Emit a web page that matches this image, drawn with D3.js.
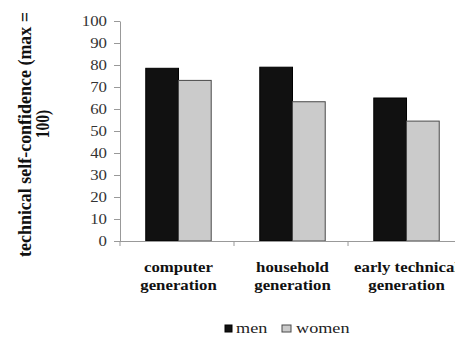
<!DOCTYPE html>
<html>
<head>
<meta charset="utf-8">
<script src="https://cdn.jsdelivr.net/npm/d3@7"></script>
<style>
  body { margin: 0; background: #fff; }
  svg { display: block; }
</style>
</head>
<body>
<div id="chart"></div>
<script>
// data
var categories = ["computer generation", "household generation", "early technical generation"];
var catLines = [["computer", "generation"], ["household", "generation"], ["early technical", "generation"]];
var seriesNames = ["men", "women"];
var men = [78.5, 79, 65];
var women = [73, 63.3, 54.5];
var yTicks = [0, 10, 20, 30, 40, 50, 60, 70, 80, 90, 100];

var colors = { men: "#111111", women: "#cbcbcb" };
var strokes = { men: "#000000", women: "#4a4a4a" };
var FONT = "'Liberation Serif', 'DejaVu Serif', 'Times New Roman', Times, serif";

var W = 455, H = 339;
var svg = d3.select("#chart").append("svg")
  .attr("width", W).attr("height", H)
  .style("font-family", FONT);

// picture looks stretched sideways, so text gets a small x scale
var sx = 1.2;

var x = d3.scaleBand()
  .domain(categories)
  .range([120, 465])
  .paddingInner(0.426)
  .paddingOuter(0.226);

var xs = d3.scaleBand()
  .domain(seriesNames)
  .range([0, x.bandwidth()]);

var y = d3.scaleLinear()
  .domain([0, 100])
  .range([241, 21]);

// bars
var data = categories.map(function(c, i) {
  return { cat: c, values: [{ s: "men", v: men[i] }, { s: "women", v: women[i] }] };
});

var groups = svg.selectAll(".grp")
  .data(data)
  .enter().append("g")
    .attr("transform", function(d) { return "translate(" + x(d.cat) + ",0)"; });

groups.selectAll("rect")
  .data(function(d) { return d.values; })
  .enter().append("rect")
    .attr("x", function(d) { return xs(d.s); })
    .attr("y", function(d) { return y(d.v); })
    .attr("width", xs.bandwidth())
    .attr("height", function(d) { return y(0) - y(d.v); })
    .attr("fill", function(d) { return colors[d.s]; })
    .attr("stroke", function(d) { return strokes[d.s]; })
    .attr("stroke-width", 1);

// y axis
var yAxis = svg.append("g")
  .attr("transform", "translate(120,0)")
  .call(d3.axisLeft(y).tickValues(yTicks).tickSize(6).tickSizeOuter(0).tickPadding(7));
yAxis.attr("font-family", null).style("font-family", FONT);
yAxis.select(".domain").attr("stroke", "#999");
yAxis.selectAll(".tick line").attr("stroke", "#999");
yAxis.selectAll(".tick text")
  .attr("fill", "#333")
  .style("font-family", FONT)
  .style("font-size", "14px")
  .attr("x", -13 / sx)
  .attr("transform", "scale(" + sx + ",1)");

// x axis line with small ticks at category boundaries
var step = x.step();
var bounds = [120, 120 + step, 120 + 2 * step];
svg.append("line")
  .attr("x1", 117).attr("x2", W)
  .attr("y1", y(0) + 0.5).attr("y2", y(0) + 0.5)
  .attr("stroke", "#999");
svg.selectAll(".xtick")
  .data(bounds)
  .enter().append("line")
    .attr("x1", function(d) { return d; }).attr("x2", function(d) { return d; })
    .attr("y1", y(0)).attr("y2", y(0) + 5)
    .attr("stroke", "#999");

// category labels (the last one runs off the right edge, as in the original)
var lbl = svg.selectAll(".cat")
  .data(categories)
  .enter().append("text")
    .attr("transform", function(d) {
      return "translate(" + (x(d) + x.bandwidth() / 2) + ",0) scale(" + sx + ",1)";
    })
    .attr("text-anchor", "middle")
    .style("font-family", FONT)
    .style("font-size", "14px")
    .style("font-weight", "bold")
    .attr("fill", "#111");
lbl.each(function(d, i) {
  var t = d3.select(this);
  catLines[i].forEach(function(line, j) {
    t.append("tspan").attr("x", 0).attr("y", 272 + j * 18.5).text(line);
  });
});

// y title, two lines
var title = ["technical self-confidence (max =", "100)"];
svg.append("text")
  .attr("transform", "translate(31,134.5) rotate(-90) scale(1," + sx + ")")
  .attr("text-anchor", "middle")
  .attr("textLength", 245)
  .attr("lengthAdjust", "spacingAndGlyphs")
  .style("font-family", FONT)
  .style("font-size", "15.5px")
  .style("font-weight", "bold")
  .attr("fill", "#111")
  .text(title[0]);
svg.append("text")
  .attr("transform", "translate(49,124) rotate(-90) scale(1," + sx + ")")
  .attr("text-anchor", "middle")
  .style("font-family", FONT)
  .style("font-size", "15.5px")
  .style("font-weight", "bold")
  .attr("fill", "#111")
  .text(title[1]);

// legend
var legX = [225, 282];
var leg = svg.selectAll(".leg")
  .data(seriesNames)
  .enter().append("g")
    .attr("transform", function(d, i) { return "translate(" + legX[i] + ",325)"; });
leg.append("rect")
  .attr("width", function(d, i) { return i === 0 ? 7 : 9; })
  .attr("height", 7)
  .attr("fill", function(d) { return colors[d]; })
  .attr("stroke", function(d) { return strokes[d]; });
leg.append("text")
  .attr("transform", function(d, i) { return "translate(" + (i === 0 ? 11 : 14) + ",8) scale(1.3,1)"; })
  .style("font-family", FONT)
  .style("font-size", "14px")
  .attr("fill", "#222")
  .text(function(d) { return d; });
</script>
</body>
</html>
